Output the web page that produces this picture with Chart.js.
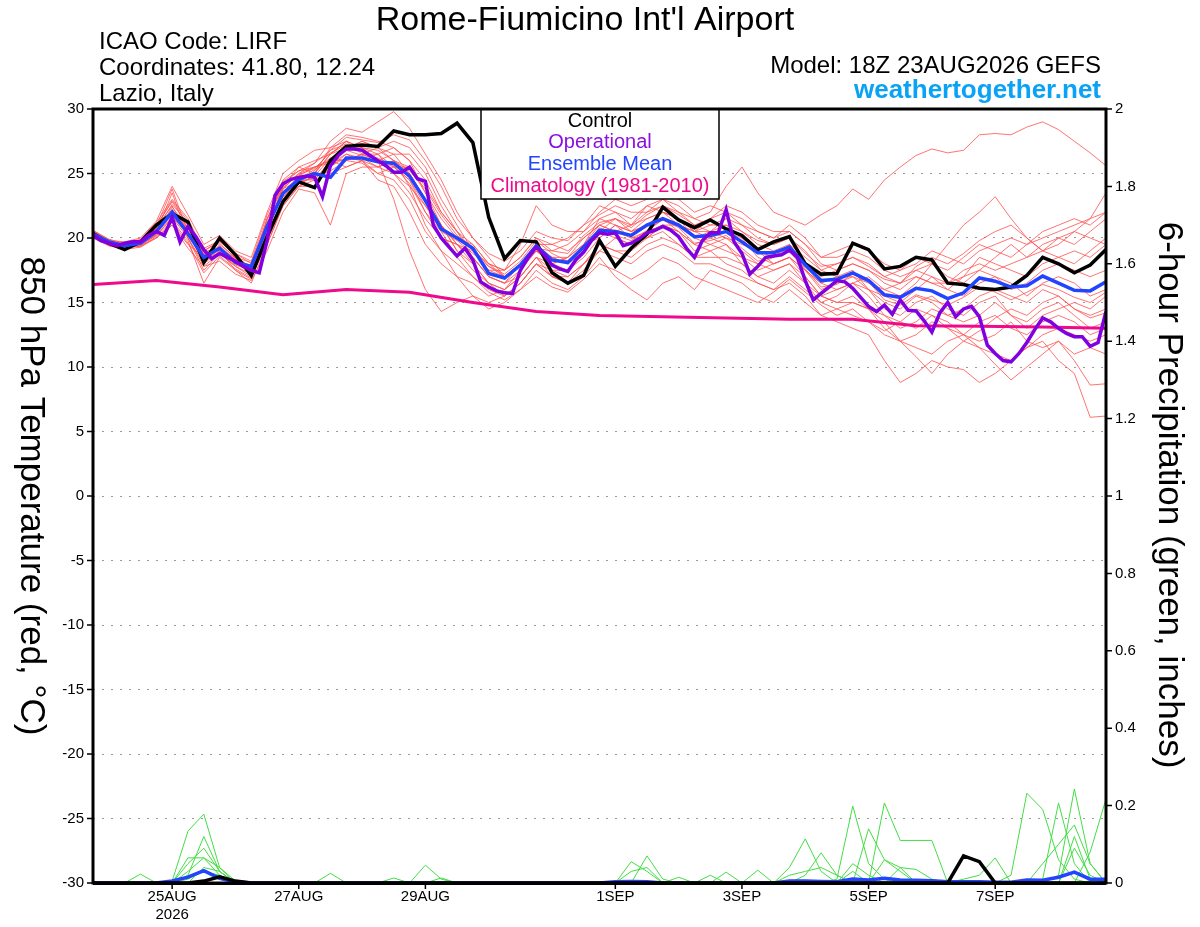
<!DOCTYPE html>
<html>
<head>
<meta charset="utf-8">
<script src="https://cdn.jsdelivr.net/npm/chart.js@4.4.0/dist/chart.umd.min.js"></script>
<style>
html,body{margin:0;padding:0;background:#fff;}
#wrap{position:relative;width:1200px;height:927px;}
canvas{display:block;}
</style>
</head>
<body>
<div id="wrap"><canvas id="c" width="1200" height="927"></canvas></div>
<script>
// ---------- text ----------
const titleText = "Rome-Fiumicino Int'l Airport";
const headerLeft = ["ICAO Code: LIRF", "Coordinates: 41.80, 12.24", "Lazio, Italy"];
const modelText = "Model: 18Z 23AUG2026 GEFS";
const siteText = "weathertogether.net";
const legendLabels = ["Control", "Operational", "Ensemble Mean", "Climatology (1981-2010)"];
const leftTitle = "850 hPa Temperature (red, °C)";
const rightTitle = "6-hour Precipitation (green, inches)";

// ---------- x axis (hours after 18Z 23AUG2026) ----------
const dayTickHours = [30, 78, 126, 198, 246, 294, 342];
const dayTickLabels = [["25AUG", "2026"], "27AUG", "29AUG", "1SEP", "3SEP", "5SEP", "7SEP"];
const hours6 = Array.from({length: 65}, (_, i) => i * 6);
const hours3 = Array.from({length: 129}, (_, i) => i * 3);
const climHours = Array.from({length: 17}, (_, i) => i * 24);

// ---------- 850 hPa temperature (C) ----------
const control = [20.35,19.6,19.1,19.7,21.0,21.9,21.25,18.1,20.0,18.7,17.1,20.1,22.8,24.35,23.9,26.0,27.1,27.2,27.1,28.3,28.0,28.0,28.1,28.9,27.4,21.6,18.4,19.8,19.7,17.3,16.5,17.1,19.8,17.8,19.2,20.3,22.4,21.4,20.8,21.4,20.7,20.2,19.1,19.7,20.1,18.0,17.2,17.25,19.6,19.1,17.6,17.8,18.5,18.3,16.5,16.4,16.1,16.0,16.2,17.1,18.5,18.0,17.3,17.9,19.1];
const ensMean = [20.3,19.7,19.4,19.6,20.5,22.0,20.35,18.5,19.2,18.1,17.8,20.9,23.45,24.55,25.0,24.7,26.2,26.2,25.9,25.8,24.8,22.9,20.7,20.0,19.2,17.25,16.9,17.9,19.4,18.3,18.1,19.3,20.6,20.5,20.2,21.0,21.5,21.0,20.1,20.2,20.5,19.7,18.85,18.85,19.3,17.9,16.7,16.8,17.3,16.7,15.6,15.4,16.1,15.9,15.3,15.75,16.9,16.65,16.2,16.3,17.05,16.5,15.95,15.9,16.6];
const operational = [
20.2,19.8,19.6,19.4,19.6,19.7,19.7,20.2,20.5,20.2,
21.6,19.7,20.9,20.1,19.1,18.4,18.8,18.5,18.2,17.8,
17.5,17.3,19.8,23.3,24.2,24.55,24.7,24.8,24.7,23.2,
25.6,26.4,26.9,26.9,26.8,26.4,26.0,25.6,25.1,25.1,
25.5,24.6,24.4,21.0,20.0,19.3,18.6,19.2,18.3,16.6,
16.2,15.9,15.75,15.7,17.5,18.5,19.3,18.7,17.9,17.6,
17.4,18.3,18.9,19.8,20.4,20.3,20.4,19.4,19.6,19.95,
20.4,20.6,20.9,20.6,20.1,19.2,18.5,19.8,20.4,20.4,
22.2,19.7,18.8,17.2,17.8,18.5,18.6,18.7,19.05,18.5,
16.7,15.2,15.7,16.2,16.7,16.6,16.1,15.4,14.7,14.3,
14.8,14.1,15.2,14.4,14.35,13.6,12.7,14.2,15.0,13.9,
14.5,14.7,13.9,11.7,11.05,10.5,10.4,11.05,11.9,12.9,
13.8,13.5,13.0,12.6,12.35,12.35,11.6,11.9,14.3];
const climatology = [16.4,16.7,16.2,15.6,16.0,15.8,15.0,14.3,14.0,13.9,13.8,13.7,13.7,13.2,13.15,13.1,13.0];

const member01 = [20.5,19.8,19.3,19.8,20.8,22.5,20.0,18.0,19.5,18.5,17.5,21.5,24.0,25.5,25.0,27.0,27.5,26.5,27.0,26.0,25.5,24.0,22.0,20.5,19.5,18.0,17.5,18.5,20.0,19.0,19.5,20.5,21.5,22.0,21.0,22.5,23.0,22.0,21.5,22.0,24.0,25.5,23.5,22.0,21.5,21.0,21.8,22.5,23.8,23.0,24.5,25.5,26.4,26.9,26.6,26.8,28.0,28.1,28.0,28.6,29.0,28.4,27.5,26.6,25.6];
const member02 = [20.0,19.5,19.5,19.3,20.0,21.0,19.5,18.5,18.8,17.8,17.0,19.5,22.5,24.0,24.5,25.0,25.5,26.0,24.5,24.0,22.0,19.5,18.0,17.0,16.5,15.5,16.0,17.0,18.5,17.5,17.0,18.0,19.5,19.0,18.5,19.5,20.0,19.5,18.5,19.0,18.0,17.5,16.5,16.0,17.0,16.0,15.0,14.5,14.0,13.5,12.5,12.0,11.5,11.0,12.0,12.5,11.5,11.0,10.5,11.5,12.0,10.5,9.5,6.1,6.2];
const member03 = [20.3,19.6,19.2,19.5,20.3,21.5,20.8,18.8,19.0,17.5,16.8,20.0,23.0,24.8,25.5,26.0,26.8,27.5,27.0,26.5,25.0,23.0,21.0,19.0,17.5,16.5,15.5,16.5,18.0,17.0,16.5,17.5,19.0,20.0,19.5,20.0,21.0,20.5,19.5,19.0,19.5,18.5,17.5,18.0,18.5,17.0,15.5,15.0,15.5,14.5,13.5,12.0,10.8,9.5,11.0,12.0,11.5,10.2,9.0,10.0,11.0,12.0,10.5,8.6,8.7];
const member04 = [20.6,19.9,19.6,19.9,21.2,23.0,21.5,19.0,19.8,18.8,18.0,21.0,24.5,25.5,26.0,26.5,27.5,27.0,26.0,23.0,19.0,16.0,14.3,15.0,15.5,15.0,15.5,16.5,18.0,17.5,17.5,18.5,20.0,21.0,20.5,21.5,22.0,21.5,20.5,20.5,21.5,21.0,20.0,19.5,20.0,19.0,17.5,18.0,18.5,18.0,17.0,16.5,17.5,18.0,17.0,16.5,17.5,18.5,19.5,18.5,19.0,20.0,19.5,20.5,21.5];
const member05 = [20.2,19.5,19.4,19.6,20.6,22.2,20.5,18.3,19.4,18.3,17.3,20.5,23.8,25.0,25.8,27.5,28.5,28.2,29.0,29.8,28.5,26.5,24.5,22.0,20.0,18.5,17.0,18.0,19.5,18.5,18.0,19.0,20.5,21.5,21.0,22.0,22.5,22.0,21.0,20.5,21.0,20.0,18.5,18.0,18.5,17.5,16.5,17.0,17.5,16.0,15.0,14.5,15.5,15.0,14.0,14.5,15.5,16.0,15.5,15.0,16.0,15.5,14.5,14.0,14.5];
const member06 = [20.4,19.7,19.3,19.7,20.4,23.5,20.0,17.5,18.8,17.9,17.5,21.5,24.2,25.2,25.5,26.0,25.5,26.0,26.5,25.5,24.5,22.0,20.0,19.5,18.5,17.0,16.5,18.0,19.0,18.0,18.5,19.5,21.0,21.5,20.5,21.0,22.0,21.5,20.0,20.5,20.0,19.5,19.0,18.5,19.5,18.5,17.5,17.0,17.0,16.5,16.0,16.5,17.0,16.5,16.0,17.0,18.5,18.0,17.5,17.0,18.0,18.5,19.0,18.5,19.5];
const member07 = [20.1,19.6,19.5,19.5,20.2,21.3,19.8,16.5,18.5,17.5,16.5,19.5,22.5,24.0,24.0,25.5,26.5,26.0,25.5,26.0,24.0,21.0,19.0,17.0,15.5,14.5,15.0,16.0,17.5,16.5,16.0,17.0,18.5,17.0,16.0,15.2,16.5,17.0,16.0,17.5,17.0,16.5,15.5,15.0,16.0,15.0,14.0,14.5,15.0,14.5,13.0,12.0,12.5,13.5,13.0,12.5,13.5,14.0,13.0,12.5,13.5,14.0,13.5,12.5,13.0];
const member08 = [20.5,19.9,19.4,19.8,21.0,22.8,21.0,18.7,19.6,18.4,17.8,21.0,23.5,24.5,25.0,26.5,27.0,27.5,27.0,27.5,27.0,25.5,23.0,21.0,19.0,17.5,17.0,18.0,19.0,18.5,18.5,20.0,21.0,20.5,20.0,20.5,21.5,21.0,20.0,19.5,20.0,19.0,18.0,18.5,19.0,17.5,16.0,16.5,17.0,16.0,14.5,14.0,15.0,15.5,14.5,14.0,15.0,15.5,14.0,13.5,14.5,15.0,14.0,13.0,13.5];
const member09 = [20.2,19.6,19.3,19.6,20.8,22.0,21.0,19.2,19.8,18.6,17.7,20.2,23.0,24.0,25.0,26.5,27.5,27.0,26.5,27.0,26.0,24.5,22.0,20.5,19.0,17.5,17.5,19.5,22.5,21.0,20.5,20.5,22.0,23.0,22.5,23.0,24.0,23.0,22.0,22.5,22.0,21.0,20.5,20.0,20.5,19.5,18.5,19.0,19.5,19.0,18.0,17.5,18.0,19.0,18.5,18.0,19.0,19.5,20.0,19.5,20.0,20.5,21.0,21.5,22.0];
const member10 = [20.4,19.8,19.5,19.7,20.6,21.8,20.6,18.4,19.2,18.0,17.6,20.8,23.8,24.5,24.5,26.0,26.0,26.5,26.0,25.5,25.5,23.5,21.5,20.0,19.5,18.0,17.5,18.5,20.0,19.5,19.0,20.0,21.0,20.5,21.0,21.5,22.0,21.5,20.5,21.0,21.5,20.5,19.5,19.0,19.5,18.0,17.0,17.5,18.0,17.5,16.5,16.0,17.0,16.5,16.5,17.5,18.0,17.5,18.0,18.5,19.5,20.0,20.5,21.5,23.5];
const member11 = [20.3,19.7,19.3,19.4,20.4,21.7,20.2,18.6,19.1,18.2,17.9,21.2,23.5,24.8,24.8,26.2,26.0,26.5,26.5,25.0,23.5,21.5,20.0,19.5,18.0,16.5,16.0,17.5,19.0,18.0,17.5,19.0,20.5,20.0,19.5,20.5,21.0,20.5,19.0,19.5,19.0,18.5,18.0,17.5,18.0,17.0,15.5,16.0,16.5,15.5,14.0,13.5,13.0,14.0,13.5,12.5,12.0,12.5,13.5,12.0,11.5,12.0,11.0,11.5,11.0];
const member12 = [20.5,19.6,19.6,19.8,20.9,23.8,20.4,18.0,19.0,18.4,17.4,20.0,23.2,24.3,25.2,26.8,27.3,26.8,26.0,26.5,26.5,25.0,22.5,20.5,18.5,17.0,16.5,17.5,19.0,18.5,18.0,19.5,20.0,21.0,20.0,20.0,21.0,21.0,20.5,20.0,19.5,18.0,17.0,17.5,18.0,16.5,15.0,15.5,16.5,16.0,15.5,15.0,16.0,17.0,16.0,15.5,16.5,17.0,16.5,15.5,16.5,17.0,16.5,15.5,16.0];
const member13 = [20.2,19.5,19.4,19.5,20.3,22.4,20.8,18.7,19.3,18.0,17.5,20.6,24.0,25.0,25.5,25.8,26.5,26.2,25.5,25.0,24.0,22.5,21.0,19.5,18.5,17.0,16.5,17.0,18.5,18.0,18.5,19.5,21.5,21.0,20.5,21.0,21.5,20.5,19.5,20.0,20.5,20.0,19.0,18.0,18.5,17.5,16.5,16.0,16.5,17.0,16.0,15.5,16.5,18.0,19.5,21.0,22.0,23.2,21.5,20.0,19.0,18.5,18.0,19.0,20.0];
const member14 = [20.0,19.4,19.2,19.4,20.0,21.2,19.6,17.3,18.6,17.6,16.9,19.8,22.8,24.2,24.8,25.2,26.0,25.8,25.0,24.5,23.0,20.5,19.0,18.0,17.0,16.0,15.5,16.5,18.0,17.0,17.0,18.0,19.0,18.5,18.0,19.0,19.5,19.0,18.0,18.0,17.5,17.0,16.5,16.0,16.5,15.5,14.0,13.5,13.0,12.5,10.5,8.8,9.5,10.5,10.0,9.8,8.8,9.5,10.5,11.5,12.5,13.0,12.5,12.0,12.5];
const member15 = [20.6,19.8,19.7,20.0,21.3,24.0,21.8,19.5,20.2,19.0,18.5,22.0,25.0,26.0,26.8,27.0,28.0,27.8,27.5,27.0,26.0,23.5,21.0,19.5,19.0,18.0,17.0,18.0,19.5,19.5,20.0,21.0,22.5,22.0,21.5,22.5,22.0,21.0,20.5,21.5,22.0,21.5,20.5,20.0,21.0,20.0,18.5,18.5,19.0,18.5,17.5,17.0,17.5,17.0,16.5,17.0,17.5,17.0,16.0,16.5,17.5,18.0,17.5,17.0,17.5];
const member16 = [20.1,19.4,19.1,19.3,20.1,21.0,19.2,17.8,18.2,17.2,16.7,19.0,22.0,23.8,23.5,21.0,25.0,25.5,25.5,26.0,25.0,23.0,21.0,19.0,18.0,16.5,16.0,17.0,18.5,17.0,16.5,18.0,19.5,19.0,19.0,20.0,20.5,19.5,18.5,18.5,18.5,18.0,17.0,16.5,17.5,16.5,15.5,15.0,15.0,14.5,14.0,13.0,13.5,14.5,14.0,13.5,14.0,15.0,14.0,13.0,14.0,14.5,15.0,14.5,15.5];
const member17 = [20.3,19.6,19.4,19.6,20.4,22.2,20.7,18.9,19.3,18.2,17.6,20.4,23.6,24.6,25.3,26.2,26.8,26.4,26.2,25.6,24.2,22.0,20.5,19.8,18.8,17.8,17.2,18.2,19.8,18.8,18.2,19.2,20.8,20.2,19.8,20.6,21.4,20.8,19.6,19.8,20.2,19.2,18.2,18.6,19.2,17.6,16.2,16.4,17.2,16.6,15.2,14.8,15.6,15.2,14.8,15.4,16.2,15.8,15.2,15.8,16.4,16.0,15.4,15.0,15.8];
const member18 = [20.4,19.7,19.5,19.8,20.7,22.6,21.2,19.0,19.7,18.8,18.2,21.8,24.4,25.2,25.8,26.8,27.8,27.6,27.4,28.0,27.6,26.0,24.0,21.5,20.0,18.8,18.2,19.0,20.5,20.0,19.8,21.0,21.8,22.5,22.0,22.0,23.0,22.5,21.5,21.0,21.0,20.5,19.8,19.5,20.0,18.8,17.8,18.0,18.5,17.8,17.0,17.5,18.5,18.0,17.5,18.5,19.5,19.0,18.5,19.5,20.5,21.0,21.5,21.0,22.0];
const member19 = [20.2,19.5,19.3,19.4,20.2,21.6,20.0,17.8,18.8,17.8,17.2,20.0,23.0,24.4,24.6,25.6,26.2,26.0,25.0,25.5,24.5,22.5,20.5,18.5,17.0,15.8,15.2,16.0,17.0,16.2,15.8,16.8,18.0,17.5,16.8,17.5,18.5,18.0,17.0,16.5,16.0,15.5,15.0,15.8,16.8,15.8,14.8,14.0,14.5,13.5,12.8,13.5,14.5,14.0,13.0,12.0,12.8,13.8,14.5,14.0,15.0,15.5,14.5,13.8,14.2];
const member20 = [20.5,19.8,19.4,19.7,20.9,22.9,21.3,18.2,19.1,18.5,18.1,21.4,23.9,24.9,25.4,26.6,27.2,27.0,26.8,26.0,25.2,23.8,21.8,20.2,19.2,17.8,17.0,17.8,19.2,19.0,18.8,20.2,21.2,21.5,20.8,21.8,22.5,21.8,21.0,21.5,22.5,22.0,21.0,20.5,20.5,19.5,18.0,17.5,18.0,17.5,16.8,16.5,17.8,18.5,18.0,18.8,19.8,20.5,21.0,20.0,19.0,19.5,20.5,20.0,19.5];
const tempMembers = [member01,member02,member03,member04,member05,member06,member07,member08,member09,member10,member11,member12,member13,member14,member15,member16,member17,member18,member19,member20];

// ---------- 6-hour precipitation (inches) ----------
const precipMean = [0,0,0,0,0,0.005,0.015,0.032,0.012,0.003, 0,0,0,0,0,0,0,0,0,0, 0,0,0,0,0,0,0,0,0,0, 0,0,0,0.003,0.004,0.003,0,0,0,0, 0,0,0,0,0.005,0.005,0.004,0.003,0.01,0.008, 0.012,0.008,0.007,0.006,0.003,0.003,0.003,0.002,0.002,0.008, 0.007,0.015,0.028,0.01,0.01];
const precipControl = [0,0,0,0,0,0,0,0.005,0.016,0.005, 0,0,0,0,0,0,0,0,0,0, 0,0,0,0,0,0,0,0,0,0, 0,0,0,0,0,0,0,0,0,0, 0,0,0,0,0,0,0,0,0,0, 0,0,0,0,0,0.07,0.055,0,0,0, 0,0,0,0,0];
const precip01 = [0,0,0,0,0,0.005,0.134,0.178,0.04,0, 0,0,0,0,0,0.025,0,0,0,0, 0,0,0,0,0,0,0,0,0,0, 0,0,0,0,0,0,0,0,0,0, 0,0,0,0,0,0,0,0.01,0.199,0.05, 0.01,0,0,0,0,0,0,0,0,0, 0,0.02,0.243,0.05,0];
const precip02 = [0,0,0,0,0,0,0.02,0.12,0.03,0, 0,0,0,0,0,0,0,0,0,0, 0,0.046,0.01,0,0,0,0,0,0,0, 0,0,0,0,0,0,0,0,0,0, 0,0,0,0,0.04,0.114,0.03,0,0,0, 0,0,0,0,0,0,0,0,0.02,0.232, 0.19,0.06,0.01,0,0];
const precip03 = [0,0,0,0,0,0,0.065,0.065,0.04,0.005, 0,0,0,0,0,0,0,0,0,0.013, 0,0,0,0,0,0,0,0,0,0, 0,0,0,0,0.055,0.03,0,0,0,0, 0,0,0,0,0,0,0,0,0,0.14, 0.06,0.04,0,0,0,0,0,0,0,0, 0.01,0.207,0.05,0,0];
const precip04 = [0,0,0,0.023,0,0,0.03,0.065,0.02,0, 0,0,0,0,0,0,0,0,0,0, 0,0,0,0,0,0,0,0,0,0, 0,0,0,0,0,0.07,0.01,0,0,0, 0,0,0,0,0,0.02,0.078,0.02,0,0, 0.207,0.11,0.11,0.11,0,0,0,0,0,0, 0,0,0,0,0];
const precip05 = [0,0,0,0,0,0,0,0.04,0.03,0, 0,0,0,0,0,0,0,0,0,0, 0,0,0.013,0,0,0,0,0,0,0, 0,0,0,0,0,0,0,0.015,0,0, 0,0,0.033,0,0,0,0,0,0.05,0.02, 0,0,0,0,0,0.01,0.02,0.065,0,0, 0,0,0.09,0.02,0];
const precip06 = [0,0,0,0,0,0,0.01,0.03,0.02,0, 0,0,0,0,0,0,0,0,0,0, 0,0,0,0,0,0,0,0,0,0, 0,0,0,0,0,0,0,0,0,0, 0.028,0,0,0,0.02,0.03,0.04,0.02,0,0, 0,0.04,0.035,0.01,0,0,0,0,0,0, 0,0,0,0.08,0.217];
const precip07 = [0,0,0,0,0,0,0,0,0,0, 0,0,0,0,0,0,0,0,0,0, 0,0,0,0,0,0,0,0,0,0, 0,0,0,0,0.03,0.04,0,0,0,0, 0,0,0,0,0,0,0,0,0,0, 0.06,0.03,0,0,0,0,0,0,0,0, 0,0,0.12,0.01,0];
const precip08 = [0,0,0,0,0,0,0.05,0.09,0.03,0, 0,0,0,0,0,0,0,0,0,0, 0,0,0,0,0,0,0,0,0,0, 0,0,0,0,0,0,0,0,0,0.02, 0,0,0,0,0,0,0,0,0.03,0, 0,0,0,0,0,0,0,0,0,0, 0.05,0.1,0.15,0.05,0];
const precipMembers = [precip01,precip02,precip03,precip04,precip05,precip06,precip07,precip08];

// ---------- build ----------
const FONT = '"Liberation Sans", Arial, Helvetica, sans-serif';
Chart.defaults.font.family = FONT;
Chart.defaults.color = '#000';

function pts(hrs, vals) { return vals.map((v, i) => ({x: hrs[i], y: v})); }
function line(data, color, width, axis) {
  return {data, borderColor: color, borderWidth: width, yAxisID: axis, pointRadius: 0, tension: 0, fill: false};
}

const datasets = [];
datasets.push(line(pts(hours3, operational), '#8000e0', 3.5, 'y'));
datasets.push(line(pts(hours6, ensMean), '#2244ff', 3.5, 'y'));
datasets.push(line(pts(hours6, control), '#000000', 3.5, 'y'));
datasets.push(line(pts(climHours, climatology), '#ee0a8a', 3, 'y'));
datasets.push(line(pts(hours6, precipControl), '#000000', 3.5, 'y2'));
datasets.push(line(pts(hours6, precipMean), '#2244ff', 3.5, 'y2'));
precipMembers.forEach(m => datasets.push(line(pts(hours6, m), '#44dd44', 1, 'y2')));
tempMembers.forEach(m => datasets.push(line(pts(hours6, m), 'rgba(255,80,80,0.8)', 1, 'y')));

const decorPlugin = {
  id: 'decor',
  afterDraw(chart) {
    const ctx = chart.ctx, a = chart.chartArea;
    ctx.save();
    // legend box
    const bx = 481, by = a.top, bw = 238, bh = 90;
    ctx.fillStyle = '#fff';
    ctx.fillRect(bx, by, bw, bh);
    ctx.strokeStyle = '#000'; ctx.lineWidth = 1.5;
    ctx.strokeRect(bx, by, bw, bh);
    const lc = ['#000000', '#8a10e0', '#2244ff', '#ee0a8a'];
    const ly = [121, 142, 164, 186];
    ctx.font = '20px ' + FONT; ctx.textAlign = 'center'; ctx.textBaseline = 'middle';
    legendLabels.forEach((t, i) => { ctx.fillStyle = lc[i]; ctx.fillText(t, 600, ly[i]); });

    // frame
    ctx.strokeStyle = '#000'; ctx.lineWidth = 3;
    ctx.strokeRect(a.left, a.top, a.right - a.left, a.bottom - a.top);
    ctx.lineWidth = 2;
    ctx.beginPath(); ctx.moveTo(a.left, a.bottom + 1); ctx.lineTo(a.right, a.bottom + 1); ctx.stroke();

    // tick marks
    ctx.lineWidth = 1.5;
    ctx.beginPath();
    chart.scales.y.ticks.forEach(t => { const y = chart.scales.y.getPixelForValue(t.value); ctx.moveTo(a.left - 6, y); ctx.lineTo(a.left, y); });
    chart.scales.y2.ticks.forEach(t => { const y = chart.scales.y2.getPixelForValue(t.value); ctx.moveTo(a.right, y); ctx.lineTo(a.right + 6, y); });
    dayTickHours.forEach(h => { const x = chart.scales.x.getPixelForValue(h); ctx.moveTo(x, a.bottom); ctx.lineTo(x, a.bottom + 6); });
    ctx.stroke();

    // header text
    ctx.fillStyle = '#000'; ctx.textBaseline = 'alphabetic';
    ctx.font = '34px ' + FONT; ctx.textAlign = 'center';
    ctx.fillText(titleText, 585, 30);
    ctx.font = '24px ' + FONT; ctx.textAlign = 'left';
    headerLeft.forEach((t, i) => ctx.fillText(t, 99, 49 + i * 26));
    ctx.textAlign = 'right';
    ctx.fillText(modelText, 1101, 73);
    ctx.font = 'bold 26px ' + FONT; ctx.fillStyle = '#0aa2f5';
    ctx.fillText(siteText, 1101, 98);

    // axis titles (rotated clockwise)
    ctx.fillStyle = '#000'; ctx.font = '35px ' + FONT; ctx.textAlign = 'center'; ctx.textBaseline = 'middle';
    ctx.save(); ctx.translate(31, 496); ctx.rotate(Math.PI / 2); ctx.fillText(leftTitle, 0, 0); ctx.restore();
    ctx.save(); ctx.translate(1169, 495); ctx.rotate(Math.PI / 2); ctx.fillText(rightTitle, 0, 0); ctx.restore();
    ctx.restore();
  }
};

new Chart(document.getElementById('c'), {
  type: 'line',
  data: {datasets},
  plugins: [decorPlugin],
  options: {
    responsive: false,
    animation: false,
    events: [],
    layout: {padding: {top: 109, left: 0, right: 0, bottom: 0}},
    plugins: {legend: {display: false}, tooltip: {enabled: false}},
    scales: {
      x: {
        type: 'linear', min: 0, max: 384,
        afterBuildTicks: s => { s.ticks = dayTickHours.map(v => ({value: v})); },
        afterFit: s => { s.height = 44; },
        grid: {display: false, drawTicks: false},
        border: {display: false},
        ticks: {
          autoSkip: false, maxRotation: 0, padding: 5,
          font: {size: 15}, color: '#000',
          callback: v => { const k = dayTickHours.indexOf(v); return k >= 0 ? dayTickLabels[k] : ''; }
        }
      },
      y: {
        position: 'left', min: -30, max: 30,
        afterFit: s => { s.width = 93; },
        grid: {color: '#9a9a9a', lineWidth: 1, drawTicks: false},
        border: {display: false, dash: [2, 7]},
        ticks: {stepSize: 5, padding: 9, font: {size: 15}, color: '#000'}
      },
      y2: {
        position: 'right', min: 0, max: 2,
        afterFit: s => { s.width = 94; },
        grid: {display: false, drawTicks: false, drawOnChartArea: false},
        border: {display: false},
        ticks: {stepSize: 0.2, padding: 9, font: {size: 15}, color: '#000',
          callback: v => String(Math.round(v * 10) / 10)}
      }
    }
  }
});
</script>
</body>
</html>
